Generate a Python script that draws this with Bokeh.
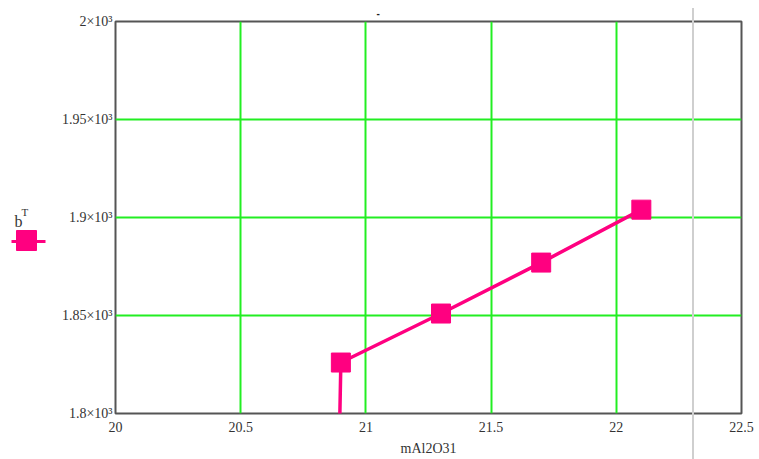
from bokeh.plotting import figure
from bokeh.models import FixedTicker, Range1d, InlineStyleSheet
from bokeh.layouts import row
from bokeh.core.properties import value
from bokeh.embed import file_html
from bokeh.resources import INLINE

# Data: b transposed against mAl2O31
m_al2o3 = [20.89, 20.9, 21.3, 21.7, 22.1]
b_t = [1760, 1826, 1851, 1877, 1904]

x_ticks = [20, 20.5, 21, 21.5, 22, 22.5]
y_ticks = [1800, 1850, 1900, 1950, 2000]
y_tick_labels = ["1.8×10³", "1.85×10³", "1.9×10³", "1.95×10³", "2×10³"]

SERIES = "#ff0080"
GRID = "#22ee22"
TEXT = "#333333"
FONT = "Liberation Serif"

KEY_W = 58          # width of the key strip left of the plot
H = 459
TOP, BOTTOM = 21, 46  # borders shared by both panels of the row

# ---- key strip: trace name b^T above a line + marker swatch.
# The strip's frame is aligned with the plot frame, so its y range is set in
# page pixels (top of frame = TOP, bottom of frame = H - BOTTOM).
key = figure(width=KEY_W, height=H, output_backend="svg", toolbar_location=None,
             x_range=Range1d(0, KEY_W), y_range=Range1d(H - BOTTOM, TOP), title=None,
             x_axis_type=None, y_axis_type=None,
             min_border_top=TOP, min_border_bottom=BOTTOM,
             min_border_left=0, min_border_right=0)
key.outline_line_color = None
key.grid.visible = False
key.segment(x0=[11], y0=[241], x1=[45], y1=[241], line_color=SERIES, line_width=3)
key.scatter(x=[26], y=[240], marker="square", size=20,
            fill_color=SERIES, line_color=SERIES)
key.text(x=[14], y=[221], text=["b"], text_font=value(FONT), text_font_size="16px",
         text_color=TEXT, text_baseline="alphabetic")
key.text(x=[21], y=[211], text=["T"], text_font=value(FONT), text_font_size="11px",
         text_color=TEXT, text_baseline="alphabetic")

# thin grey region boundary running down the page
boundary = InlineStyleSheet(css=f"""
:host::after {{
  content: "";
  position: absolute;
  left: {692 - KEY_W}px; top: 8px;
  width: 2px; height: 451px;
  background: #cfcfcf;
  pointer-events: none;
}}
""")

# ---- main plot
p = figure(width=759 - KEY_W, height=H, output_backend="svg", toolbar_location=None,
           x_range=Range1d(20, 22.5), y_range=Range1d(1800, 2000),
           min_border_left=115 - KEY_W, min_border_right=18,
           min_border_top=TOP, min_border_bottom=BOTTOM,
           stylesheets=[boundary])
p.background_fill_color = "white"
p.border_fill_color = "white"
p.outline_line_color = "#555555"
p.outline_line_width = 2

p.title.text = "-"
p.title.align = "left"
p.title.offset = 261
p.title.text_font_size = "10px"
p.title.text_line_height = 0.8
p.title.text_color = "#222222"
p.title.standoff = 10

p.xaxis.ticker = FixedTicker(ticks=x_ticks)
p.yaxis.ticker = FixedTicker(ticks=y_ticks)
p.yaxis.major_label_overrides = {t: s for t, s in zip(y_ticks, y_tick_labels)}
p.xaxis.major_label_overrides = {t: f"{t:g}" for t in x_ticks}

for ax in (p.xaxis, p.yaxis):
    ax.axis_line_color = None
    ax.major_tick_line_color = None
    ax.minor_tick_line_color = None
    ax.major_tick_out = 0
    ax.major_tick_in = 0
    ax.major_label_text_font = FONT
    ax.major_label_text_font_size = "14px"
    ax.major_label_text_color = TEXT

p.xaxis.major_label_standoff = 8
p.yaxis.major_label_standoff = 3
p.xaxis.axis_label = "mAl2O31"
p.xaxis.axis_label_text_font = FONT
p.xaxis.axis_label_text_font_size = "14px"
p.xaxis.axis_label_text_font_style = "normal"
p.xaxis.axis_label_text_color = TEXT
p.xaxis.axis_label_standoff = 6

p.xgrid.grid_line_color = GRID
p.ygrid.grid_line_color = GRID
p.xgrid.grid_line_width = 2
p.ygrid.grid_line_width = 2

p.line(m_al2o3, b_t, line_color=SERIES, line_width=3.5)
p.scatter(m_al2o3, b_t, marker="square", size=19,
          fill_color=SERIES, line_color=SERIES)

layout = row(key, p, spacing=0)
open("out.html", "w").write(file_html(layout, INLINE))
